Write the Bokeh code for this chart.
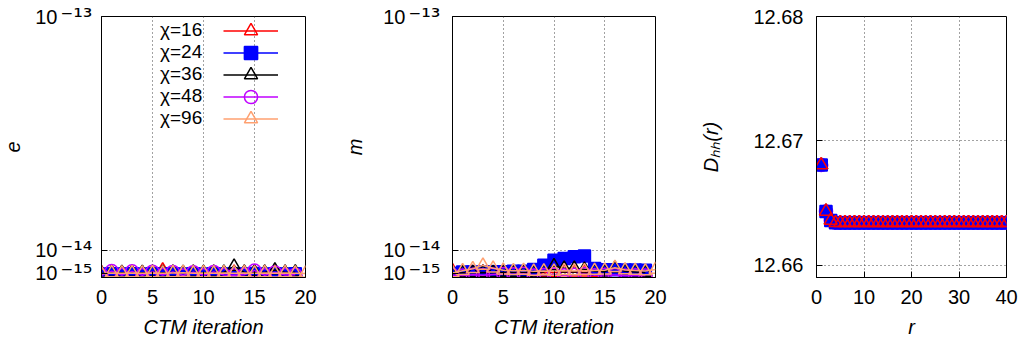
from bokeh.plotting import figure
from bokeh.layouts import row
from bokeh.models import Range1d, FixedTicker, Legend, LegendItem, LinearAxis
from bokeh.embed import file_html
from bokeh.resources import INLINE

# ---------------- data ----------------
iters = list(range(20))
iters96 = list(range(21))

# panel 1: e (units of 1e-15)
e16 = [1.2, 1.3, 1.2, 1.3, 1.2, 1.3, 2.3, 1.3, 1.2, 1.3, 1.2, 1.3, 1.2, 1.4, 1.3, 1.5, 1.3, 1.4, 1.3, 1.2]
e24 = [0.8, 0.9, 0.8, 0.9, 0.8, 0.9, 0.8, 0.9, 0.8, 0.9, 0.8, 0.9, 0.8, 0.9, 0.8, 1.0, 0.8, 0.9, 0.8, 0.9]
e36 = [1.0, 1.4, 1.3, 1.4, 1.3, 1.4, 1.3, 1.4, 1.3, 1.4, 1.3, 1.4, 1.4, 3.7, 1.4, 1.5, 1.4, 2.3, 1.4, 1.5]
e48 = [0.3, 1.9, 0.4, 1.8, 0.3, 1.7, 0.4, 1.6, 0.2, 1.5, 0.3, 1.6, 0.4, 0.3, 0.5, 2.1, 0.3, 1.4, 0.4, 0.5]
e96 = [0.9, 1.2, 1.1, 1.2, 1.1, 1.2, 1.1, 1.2, 1.3, 1.1, 1.2, 1.1, 1.2, 1.1, 1.2, 1.1, 1.2, 1.1, 1.2, 1.1, 1.0]

# panel 2: m (units of 1e-15)
m16 = [2.0, 1.5, 1.3, 1.4, 1.2, 1.3, 1.2, 1.2, 1.1, 1.3, 1.4, 1.6, 1.5, 1.5, 1.4, 1.5, 2.0, 1.4, 1.3, 1.2]
m24 = [1.0, 1.6, 1.6, 1.6, 1.7, 1.7, 1.8, 1.8, 2.5, 4.2, 6.1, 6.8, 7.4, 7.7, 2.9, 2.4, 2.4, 2.3, 2.3, 2.2]
m36 = [0.8, 1.3, 1.3, 1.4, 1.3, 1.4, 1.4, 1.3, 1.4, 1.6, 3.9, 3.0, 3.0, 2.6, 1.8, 1.7, 3.0, 1.8, 1.6, 1.4]
m48 = [0.4, 0.2, 0.5, 0.3, 0.6, 0.8, 0.7, 0.9, 0.2, 0.4, 0.6, 0.3, 0.5, 0.8, 0.3, 0.5, 0.4, 0.2, 0.3, 0.2]
m96 = [1.2, 2.0, 2.8, 4.1, 3.0, 2.2, 2.0, 2.1, 1.8, 1.9, 1.8, 2.0, 1.9, 2.0, 2.1, 2.2, 3.2, 2.3, 2.1, 1.9, 2.5]

# panel 3: D_hh(r)
r_vals = list(range(1, 41))
dhh = [12.66805, 12.66432, 12.66359] + [12.66340] * 37

labels = ["χ=16", "χ=24", "χ=36", "χ=48", "χ=96"]
colors = ["#ff0000", "#0000ff", "#000000", "#c000ff", "#ffa070"]
markers = ["triangle", "square", "triangle", "circle", "triangle"]
fills = [False, True, False, False, False]

yticks_log = [1e-15, 1e-14, 1e-13]
ytick_base = "10"
ytick_exponents = ["⁻¹⁵", "⁻¹⁴", "⁻¹³"]
xticks_iter = [0, 5, 10, 15, 20]
xticks_r = [0, 10, 20, 30, 40]
yticks_d = [12.66, 12.67, 12.68]

FONT = "Liberation Sans"
FS = "20px"
FRAME_H = 261


def style_axis(ax):
    ax.axis_line_color = "black"
    ax.major_tick_in = 6
    ax.major_tick_out = 0
    ax.minor_tick_line_color = None
    ax.major_label_text_font = FONT
    ax.major_label_text_font_size = FS
    ax.major_label_text_color = "black"
    ax.axis_label_text_font = FONT
    ax.axis_label_text_font_size = FS
    ax.axis_label_text_font_style = "italic"
    ax.axis_label_text_color = "black"


def style(p, xlabel, ylabel, ylab_standoff, ytick_standoff):
    p.outline_line_color = "black"
    p.outline_line_width = 1
    p.background_fill_color = "white"
    p.border_fill_color = "white"
    style_axis(p.xaxis[0])
    style_axis(p.yaxis[0])
    p.xaxis[0].axis_label = xlabel
    p.yaxis[0].axis_label = ylabel
    p.xaxis[0].major_label_standoff = 12
    p.xaxis[0].axis_label_standoff = 9
    p.yaxis[0].major_label_standoff = ytick_standoff
    p.yaxis[0].axis_label_standoff = ylab_standoff
    for g in (p.xgrid[0], p.ygrid[0]):
        g.grid_line_color = "#444444"
        g.grid_line_dash = "1 3"
        g.grid_line_width = 1


def add_series(p, x, y, i, with_line=True):
    out = []
    if with_line:
        out.append(p.line(x, y, line_color=colors[i], line_width=1.5))
    out.append(p.scatter(x, y, marker=markers[i], size=13 if markers[i] != "square" else 12,
                         line_color=colors[i], line_width=1.5,
                         fill_color=colors[i] if fills[i] else None))
    return out


def make_fig(frame_w, left, right, xr, yr):
    p = figure(frame_width=frame_w, frame_height=FRAME_H, output_backend="svg",
               toolbar_location=None, x_range=xr, y_range=yr,
               min_border_left=left, min_border_right=right,
               min_border_top=16, min_border_bottom=73)
    return p


def power_axes(p, ylabel, sup_standoff, base_standoff, label_standoff):
    """inner axis: exponents (superscript), outer axis: base '10' + axis label"""
    p.xaxis[0].ticker = FixedTicker(ticks=xticks_iter)
    inner = p.yaxis[0]
    inner.ticker = FixedTicker(ticks=yticks_log)
    inner.major_label_overrides = dict(zip(yticks_log, ytick_exponents))
    inner.major_label_text_font = "DejaVu Sans"
    inner.major_label_text_font_size = "24px"
    inner.major_label_standoff = sup_standoff
    inner.axis_label = None
    outer = LinearAxis(ticker=FixedTicker(ticks=yticks_log),
                       major_label_overrides={t: ytick_base for t in yticks_log})
    style_axis(outer)
    outer.axis_line_color = None
    outer.major_tick_line_color = None
    outer.major_tick_in = 0
    outer.major_label_standoff = base_standoff
    outer.axis_label = ylabel
    outer.axis_label_standoff = label_standoff
    p.add_layout(outer, "left")


scale = 1e-15

# ---------- panel 1 ----------
p1 = make_fig(204, 101, 33, Range1d(0, 20), Range1d(-5.6e-16, 1e-13))
style(p1, "CTM iteration", "e", 12, 9)
series_e = [e16, e24, e36, e48, e96]
rends = []
for i, ys in enumerate(series_e):
    xs = iters96 if len(ys) == 21 else iters
    rends.append(add_series(p1, xs, [v * scale for v in ys], i))

# legend: text column and sample column (gnuplot style: text left, sample right)
dummies = [p1.scatter([], [], marker="circle", size=1, fill_alpha=0, line_alpha=0) for _ in labels]
leg_text = Legend(items=[LegendItem(label=labels[i], renderers=[dummies[i]]) for i in range(5)],
                  location=(59, 148), glyph_width=0, glyph_height=22, label_height=22,
                  label_standoff=0, spacing=0, padding=0, margin=0,
                  border_line_color=None, background_fill_alpha=0,
                  label_text_font=FONT, label_text_font_size="19px", label_text_color="black")
p1.add_layout(leg_text, "center")
for k in range(5):
    leg = Legend(items=[LegendItem(label=" ", renderers=rends[k])],
                 location=(122, 230 - 22 * k), glyph_width=55, glyph_height=33,
                 label_height=20, label_width=0, label_standoff=0, spacing=0,
                 padding=0, margin=0, border_line_color=None, background_fill_alpha=0,
                 label_text_font=FONT, label_text_font_size="10px")
    p1.add_layout(leg, "center")
power_axes(p1, "e", 9, 0, 12)

# ---------- panel 2 ----------
p2 = make_fig(203, 114, 23, Range1d(0, 20), Range1d(-5.6e-16, 1e-13))
style(p2, "CTM iteration", "m", 15, 12)
series_m = [m16, m24, m36, m48, m96]
for i, ys in enumerate(series_m):
    xs = iters96 if len(ys) == 21 else iters
    add_series(p2, xs, [v * scale for v in ys], i)
power_axes(p2, "m", 12, 0, 14)

# ---------- panel 3 ----------
p3 = make_fig(190, 138, 19, Range1d(0, 40), Range1d(12.659, 12.68))
style(p3, "r", "Dₕₕ(r)", 28, 13)
p3.xaxis[0].ticker = FixedTicker(ticks=xticks_r)
p3.yaxis[0].ticker = FixedTicker(ticks=yticks_d)
p3.yaxis[0].major_label_overrides = {12.66: "12.66", 12.67: "12.67", 12.68: "12.68"}
for i in [2, 4, 3, 1, 0]:
    add_series(p3, r_vals, dhh, i, with_line=False)

layout = row(p1, p2, p3)
open("out.html", "w").write(file_html(layout, INLINE))
